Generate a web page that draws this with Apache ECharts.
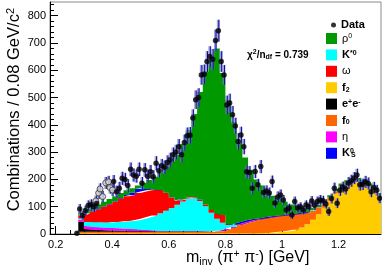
<!DOCTYPE html>
<html><head><meta charset="utf-8">
<script src="https://cdn.jsdelivr.net/npm/echarts@6/dist/echarts.min.js"></script>
<style>html,body{margin:0;padding:0;background:#fff}#c{width:382px;height:271px}</style>
</head><body><div id="c"></div>
<script>
// Histogram bins (left edges, GeV), width 0.02; last bin closes at binEnd
const binEdges = [0.28,0.30,0.32,0.34,0.36,0.38,0.40,0.42,0.44,0.46,0.48,0.50,0.52,0.54,0.56,0.58,0.60,0.62,0.64,0.66,0.68,0.70,0.72,0.74,0.76,0.78,0.80,0.82,0.84,0.86,0.88,0.90,0.92,0.94,0.96,0.98,1.00,1.02,1.04,1.06,1.08,1.10,1.12,1.14,1.16,1.18,1.20,1.22,1.24,1.26,1.28,1.30,1.32,1.34];
const binEnd = 1.36;
// Stacked components (bottom to top)
const f2   = [3,3,3,3,3,3,3,3,3,3,3,3,3,3,3,3,3,3,3,3,3,3,3,3,3,3,3,3,3,3,3,3,3,4,5,7,9,12,16,24,36,52,72,96,122,148,168,180,188,190,182,170,156,138];
const f0   = [5,5,5,5,5,5,5,5,5,5,5,5,5,5,5,5,5,5,5,5,5,5,5,5,6,8,14,22,30,37,43,48,52,55,57,58,58,57,55,50,42,34,26,18,12,8,6,5,4,4,3,3,3,3];
const ee   = [38,10,8,7,6,5,5,4,4,3,3,3,3,2,2,2,2,2,2,2,2,2,1,1,1,1,1,1,1,1,1,1,0,0,0,0,0,0,0,0,0,0,0,0,0,0,0,0,0,0,0,0,0,0];
const eta  = [6,11,11,10,10,9,9,8,8,7,6,5,4,3,2,1,1,1,1,1,1,1,1,1,1,1,1,0,0,0,0,0,0,0,0,0,0,0,0,0,0,0,0,0,0,0,0,0,0,0,0,0,0,0];
const kst  = [5,15,17,18,19,20,22,24,27,30,34,40,47,55,64,74,84,96,108,118,120,110,92,68,45,28,14,7,5,4,3,3,2,2,2,2,2,2,2,2,2,2,1,1,1,1,1,1,1,1,1,1,1,1];
const omega= [11,30,38,47,57,66,74,84,91,94,99,100,98,94,84,65,39,15,7,5,4,4,5,10,20,29,5,1,1,1,1,0,0,0,0,0,0,0,0,0,0,0,0,0,0,0,0,0,0,0,0,0,0,0];
const k0s  = [2,2,2,2,2,2,2,3,5,9,15,12,4,2,1,1,1,1,1,1,1,1,0,0,0,0,0,0,0,0,0,0,0,0,0,0,0,0,0,0,0,0,0,0,0,0,0,0,0,0,0,0,0,0];
const rho  = [10,16,16,16,16,18,18,19,17,17,13,20,34,46,64,94,130,167,203,245,304,394,488,552,604,520,452,376,295,234,184,145,121,94,76,61,49,37,29,20,14,8,7,7,7,8,10,11,11,11,12,11,12,8];
// Data points
const dataMass = [0.275,0.285,0.295,0.305,0.315,0.325,0.335,0.345,0.405,0.415,0.425,0.435,0.445,0.455,0.465,0.475,0.485,0.495,0.505,0.515,0.525,0.535,0.545,0.555,0.565,0.575,0.585,0.595,0.605,0.615,0.625,0.635,0.645,0.655,0.665,0.675,0.685,0.695,0.705,0.715,0.725,0.735,0.745,0.755,0.765,0.775,0.785,0.795,0.805,0.815,0.825,0.835,0.845,0.855,0.865,0.875,0.885,0.895,0.905,0.915,0.925,0.935,0.945,0.955,0.965,0.975,0.985,0.995,1.005,1.015,1.025,1.035,1.045,1.055,1.065,1.075,1.085,1.095,1.105,1.115,1.125,1.135,1.145,1.155,1.165,1.175,1.185,1.195,1.205,1.215,1.225,1.235,1.245,1.255,1.265,1.275,1.285,1.295,1.305,1.315,1.325,1.335,1.345];
const dataCounts = [3,92,68,86,104,108,100,112,192,155,168,204,200,178,237,216,212,237,186,235,212,228,210,259,232,250,245,262,272,290,300,320,290,335,360,362,425,492,500,583,585,632,650,640,709,745,632,583,473,480,437,396,339,363,320,228,225,168,229,180,247,152,158,150,192,114,136,143,125,88,95,70,119,95,100,88,106,100,121,105,119,125,122,110,82,130,168,113,160,172,165,187,195,205,216,180,182,191,185,155,170,160,131];
const dataErr = [6,18,16,18,19,19,19,20,24,22,23,24,24,23,25,24,24,25,23,25,24,25,24,26,25,25,25,26,26,27,27,28,27,29,30,30,32,34,34,36,36,38,38,38,40,40,38,36,34,34,32,30,30,30,28,24,24,22,24,22,24,20,20,20,22,18,20,20,18,16,16,15,18,16,16,16,17,16,18,17,18,18,18,17,16,18,20,18,20,20,20,22,22,22,23,21,21,22,22,20,21,20,18];
// Points drawn as open markers
const openMass = [0.342,0.352,0.357,0.366,0.377,0.387,0.392,0.401];
const openCounts = [121,150,165,137,187,191,170,161];
const openErr = [20,21,21,21,22,22,22,22];
// Axis ticks
const xTickValues = [0.2,0.4,0.6,0.8,1.0,1.2];
const xTickLabels = ['0.2','0.4','0.6','0.8','1','1.2'];
const xMinorTicks = [0.25,0.3,0.35,0.45,0.5,0.55,0.65,0.7,0.75,0.85,0.9,0.95,1.05,1.1,1.15,1.25,1.3];
const yTickValues = [0,100,200,300,400,500,600,700,800];
const yMinorTicks = [];
for (let v = 20; v <= 840; v += 20) if (v % 100) yMinorTicks.push(v);

const FONT = 'Liberation Sans';
// rows are [count, mass] so that the stacked dimension is the count (y)
function hist(vals){ const d = binEdges.map((x,i)=>[vals[i], x]); d.push([vals[vals.length-1], binEnd]); return d; }
const comps = [
  ['f2', f2, '#ffcc00'], ['f0', f0, '#ff6600'], ['e+e-', ee, '#000000'], ['η', eta, '#ff00ff'],
  ['K*0', kst, '#00ffff'], ['ω', omega, '#ff0000'], ['K0S', k0s, '#0000ff'], ['ρ0', rho, '#009900']
];
const series = comps.map(([n, v, c]) => ({
  type:'line', name:n, stack:'tot', step:'end', symbol:'none', silent:true,
  encode:{x:1, y:0},
  lineStyle:{width:0, opacity:0}, areaStyle:{color:c, opacity:1}, itemStyle:{color:c},
  data: hist(v), z:1
}));
function errRender(params, api){
  const x = api.value(0), y = api.value(1), e = api.value(2);
  const c = api.coord([x,y]), t = api.coord([x,y+e]), b = api.coord([x,Math.max(0,y-e)]);
  return {type:'group', children:[
    {type:'rect', shape:{x:c[0]-1.5, y:t[1], width:3, height:b[1]-t[1]}, style:{fill:'rgba(120,120,215,0.7)'}},
    {type:'line', shape:{x1:c[0]+0.5, y1:t[1], x2:c[0]+0.5, y2:b[1]}, style:{stroke:'#10108a', lineWidth:1}}
  ]};
}
series.push({type:'custom', name:'errA', renderItem:errRender, silent:true, z:3,
  data: dataMass.map((m,i)=>[m, dataCounts[i], dataErr[i]])});
series.push({type:'custom', name:'errB', renderItem:errRender, silent:true, z:3,
  data: openMass.map((m,i)=>[m, openCounts[i], openErr[i]])});
series.push({type:'scatter', name:'open', symbol:'circle', symbolSize:6, silent:true, z:4,
  itemStyle:{color:'#d8d8d8', borderColor:'#333', borderWidth:1},
  data: openMass.map((m,i)=>[m, openCounts[i]])});
series.push({type:'scatter', name:'Data', symbol:'circle', symbolSize:5.5, silent:true, z:5,
  itemStyle:{color:'#000'}, data: dataMass.map((m,i)=>[m, dataCounts[i]])});

const legendRich = {
  b:{fontFamily:FONT, fontWeight:'bold', fontSize:11, lineHeight:11, color:'#000'},
  g:{fontFamily:FONT, fontSize:11, lineHeight:11, color:'#000'},
  sup:{fontFamily:FONT, fontSize:7, lineHeight:7, verticalAlign:'top', color:'#000'},
  supb:{fontFamily:FONT, fontWeight:'bold', fontSize:7, lineHeight:7, verticalAlign:'top', color:'#000'},
  supz:{fontFamily:FONT, fontWeight:'bold', fontSize:7, lineHeight:7, width:1, verticalAlign:'top', color:'#000'},
  subb:{fontFamily:FONT, fontWeight:'bold', fontSize:7, lineHeight:7, verticalAlign:'bottom', color:'#000'}
};
const legendText = {
  'ρ0':'{g|ρ}{sup|0}', 'K*0':'{b|K}{supb|*0}', 'ω':'{g|ω}', 'f2':'{b|f}{subb|2}',
  'e+e-':'{b|e}{supb|+}{b|e}{supb|-}', 'f0':'{b|f}{subb|0}', 'η':'{g|η}', 'K0S':'{b|K}{supz|0}{subb|S}'
};

const chart = echarts.init(document.getElementById('c'), null, {renderer:'canvas'});
chart.setOption({
  animation:false,
  grid:{left:50, right:1, top:2, bottom:37, show:true, borderColor:'#8a8a8a', borderWidth:1},
  xAxis:[
    {type:'value', min:0.18, max:1.35, position:'bottom',
     axisLine:{onZero:false, lineStyle:{color:'#000', width:1}},
     axisTick:{inside:true, length:8, customValues:xTickValues, lineStyle:{color:'#000'}},
     axisLabel:{customValues:xTickValues, margin:5, color:'#000', fontSize:11, fontFamily:FONT,
       formatter:v=>xTickLabels[xTickValues.findIndex(t=>Math.abs(t-v)<1e-6)]},
     splitLine:{show:false}},
    {type:'value', min:0.18, max:1.35, position:'bottom',
     axisLine:{show:false}, axisTick:{inside:true, length:4, customValues:xMinorTicks, lineStyle:{color:'#000'}},
     axisLabel:{show:false}, splitLine:{show:false}}
  ],
  yAxis:[
    {type:'value', min:0, max:850, position:'left',
     axisLine:{show:true, lineStyle:{color:'#000', width:1}},
     axisTick:{show:true, inside:true, length:8, customValues:yTickValues, lineStyle:{color:'#000'}},
     axisLabel:{customValues:yTickValues, margin:4, color:'#000', fontSize:11, fontFamily:FONT},
     splitLine:{show:false}},
    {type:'value', min:0, max:850, position:'left',
     axisLine:{show:false}, axisTick:{show:true, inside:true, length:4, customValues:yMinorTicks, lineStyle:{color:'#000'}},
     axisLabel:{show:false}, splitLine:{show:false}}
  ],
  legend:[
    {data:['Data'], left:326, top:14.5, icon:'circle', itemWidth:5, itemHeight:5, selectedMode:false,
     textStyle:{fontFamily:FONT, fontWeight:'bold', fontSize:11, color:'#000', padding:[0,0,0,0]}},
    {data:['ρ0','K*0','ω','f2','e+e-','f0','η','K0S'], orient:'vertical', left:321, top:28,
     itemWidth:11, itemHeight:11, itemGap:5.4, icon:'rect', selectedMode:false,
     formatter:n=>legendText[n], textStyle:{rich:legendRich}}
  ],
  graphic:[
    {type:'text', x:14, y:8, rotation:Math.PI/2, silent:true,
     style:{text:'{n|Combinations / 0.08 GeV/c}{s|2}', align:'right', verticalAlign:'middle',
       rich:{n:{fontFamily:FONT, fontSize:16.5, lineHeight:18, fill:'#000'}, s:{fontFamily:FONT, fontSize:11, lineHeight:11, verticalAlign:'top', fill:'#000'}}}},
    {type:'text', x:186, y:258, silent:true,
     style:{text:'{n|m}{s|inv}{n| (π}{p|+}{n| π}{p|-}{n|) [GeV]}', align:'left', verticalAlign:'middle',
       rich:{n:{fontFamily:FONT, fontSize:16, lineHeight:19, fill:'#000'},
             s:{fontFamily:FONT, fontSize:10.5, lineHeight:10, verticalAlign:'bottom', fill:'#000'},
             p:{fontFamily:FONT, fontSize:10.5, lineHeight:10, verticalAlign:'top', fill:'#000'}}}},
    {type:'text', x:247, y:55, silent:true,
     style:{text:'{b|χ}{p|2}{b|/n}{s|df}{b| = 0.739}', align:'left', verticalAlign:'middle',
       rich:{b:{fontFamily:FONT, fontWeight:'bold', fontSize:10, lineHeight:12, fill:'#000'},
             p:{fontFamily:FONT, fontWeight:'bold', fontSize:7, lineHeight:7, verticalAlign:'top', fill:'#000'},
             s:{fontFamily:FONT, fontWeight:'bold', fontSize:7, lineHeight:7, verticalAlign:'bottom', fill:'#000'}}}}
  ],
  series: series
});
</script>
</body></html>
